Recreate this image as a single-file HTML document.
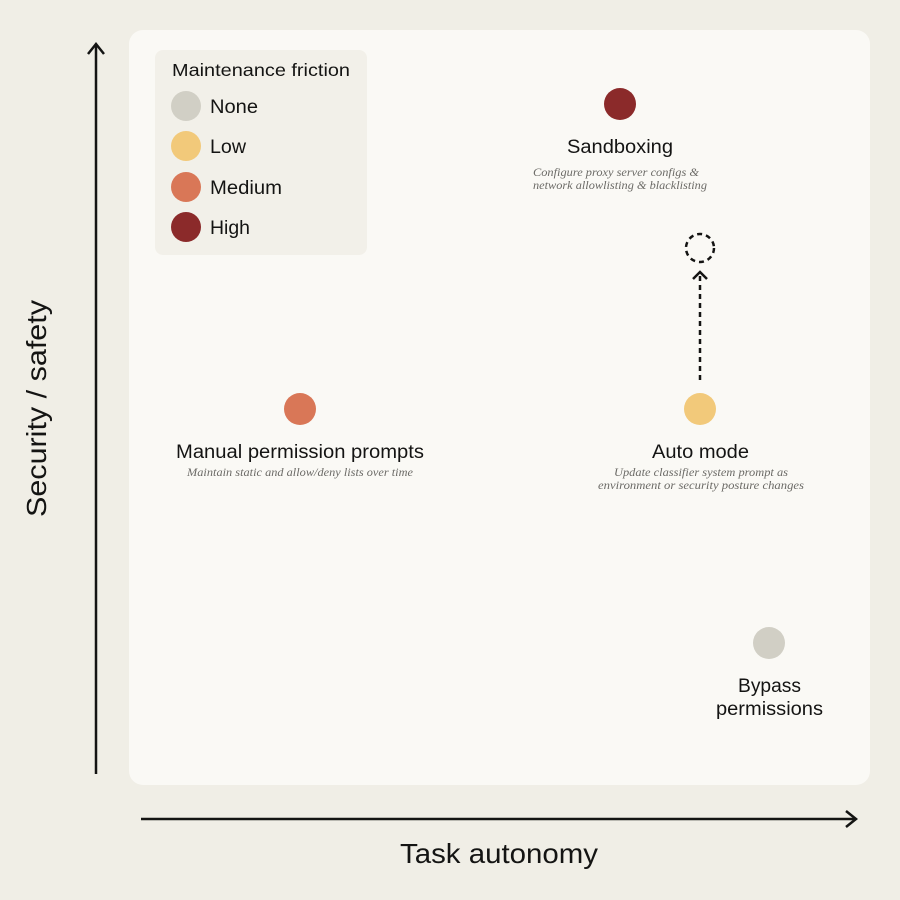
<!DOCTYPE html>
<html><head><meta charset="utf-8"><style>
html,body{margin:0;padding:0;background:#f0eee6;}
svg{display:block;}
.s{font-family:"Liberation Sans",sans-serif;fill:#141413;}
.i{font-family:"Liberation Serif",serif;font-style:italic;fill:#6b6a66;font-size:11.5px;}
</style></head><body>
<svg width="900" height="900" viewBox="0 0 900 900">
<rect x="0" y="0" width="900" height="900" fill="#f0eee6"/>
<rect x="129" y="30" width="741" height="755" rx="14" fill="#faf9f5"/>
<rect x="155" y="50" width="212" height="205" rx="8" fill="#f0eee6" opacity="0.8"/>
<text x="172" y="76" class="s" font-size="17.5" textLength="178" lengthAdjust="spacingAndGlyphs">Maintenance friction</text>
<circle cx="186" cy="106" r="15" fill="#d1cfc5"/><text x="210" y="113" class="s" font-size="19" textLength="48" lengthAdjust="spacingAndGlyphs">None</text>
<circle cx="186" cy="146" r="15" fill="#f2c97a"/><text x="210" y="153" class="s" font-size="19" textLength="36" lengthAdjust="spacingAndGlyphs">Low</text>
<circle cx="186" cy="187" r="15" fill="#d97757"/><text x="210" y="194" class="s" font-size="19" textLength="72" lengthAdjust="spacingAndGlyphs">Medium</text>
<circle cx="186" cy="227" r="15" fill="#8b2a2a"/><text x="210" y="234" class="s" font-size="19" textLength="40" lengthAdjust="spacingAndGlyphs">High</text>
<line x1="96" y1="44" x2="96" y2="774" stroke="#141413" stroke-width="2.5"/>
<polyline points="88,54 96,44 104,54" fill="none" stroke="#141413" stroke-width="2.5"/>
<line x1="141" y1="819" x2="856" y2="819" stroke="#141413" stroke-width="2.5"/>
<polyline points="846,811 856,819 846,827" fill="none" stroke="#141413" stroke-width="2.5"/>
<text x="400" y="863" class="s" font-size="28" textLength="198" lengthAdjust="spacingAndGlyphs">Task autonomy</text>
<text transform="translate(46,517) rotate(-90)" class="s" font-size="28" textLength="217" lengthAdjust="spacingAndGlyphs">Security / safety</text>
<circle cx="620" cy="104" r="16" fill="#8b2a2a"/>
<text x="567" y="153" class="s" font-size="19" textLength="106" lengthAdjust="spacingAndGlyphs">Sandboxing</text>
<text x="533" y="176" class="i" textLength="166" lengthAdjust="spacingAndGlyphs">Configure proxy server configs &amp;</text>
<text x="533" y="189" class="i" textLength="174" lengthAdjust="spacingAndGlyphs">network allowlisting &amp; blacklisting</text>
<circle cx="700" cy="248" r="14" fill="none" stroke="#141413" stroke-width="2.5" stroke-dasharray="5,4"/>
<polyline points="693,279 700,272 707,279" fill="none" stroke="#141413" stroke-width="2.5"/>
<line x1="700" y1="276" x2="700" y2="384" stroke="#141413" stroke-width="2.5" stroke-dasharray="5,4"/>
<circle cx="700" cy="409" r="16" fill="#f2c97a"/>
<text x="652" y="458" class="s" font-size="19" textLength="97" lengthAdjust="spacingAndGlyphs">Auto mode</text>
<text x="614" y="476" class="i" textLength="174" lengthAdjust="spacingAndGlyphs">Update classifier system prompt as</text>
<text x="598" y="489" class="i" textLength="206" lengthAdjust="spacingAndGlyphs">environment or security posture changes</text>
<circle cx="300" cy="409" r="16" fill="#d97757"/>
<text x="176" y="458" class="s" font-size="19" textLength="248" lengthAdjust="spacingAndGlyphs">Manual permission prompts</text>
<text x="187" y="476" class="i" textLength="226" lengthAdjust="spacingAndGlyphs">Maintain static and  allow/deny lists over time</text>
<circle cx="769" cy="643" r="16" fill="#d1cfc5"/>
<text x="738" y="692" class="s" font-size="19" textLength="63" lengthAdjust="spacingAndGlyphs">Bypass</text>
<text x="716" y="715" class="s" font-size="19" textLength="107" lengthAdjust="spacingAndGlyphs">permissions</text>
</svg>
</body></html>
